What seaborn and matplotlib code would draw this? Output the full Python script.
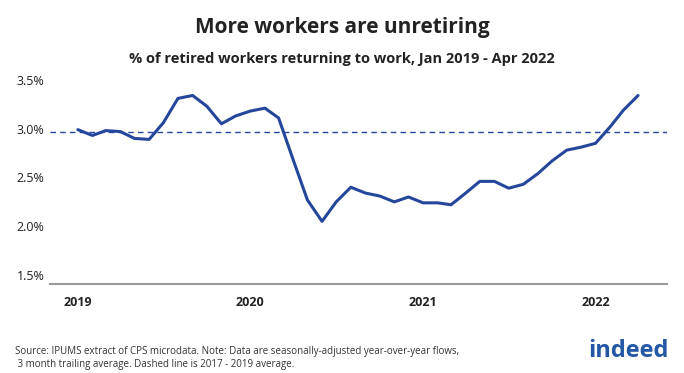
import numpy as np
import pandas as pd
import matplotlib
matplotlib.use("Agg")
import matplotlib.pyplot as plt
import seaborn as sns

# monthly share of retired workers returning to work (%), Jan 2019 - Apr 2022
months = pd.date_range("2019-01-01", "2022-04-01", freq="MS")
rate = [2.99, 2.93, 2.98, 2.97, 2.90, 2.89, 3.06, 3.31, 3.34, 3.23, 3.05, 3.13,
        3.18, 3.21, 3.11, 2.68, 2.27, 2.05, 2.25, 2.40, 2.34, 2.31, 2.25, 2.30,
        2.24, 2.24, 2.22, 2.34, 2.46, 2.46, 2.39, 2.43, 2.54, 2.67, 2.78, 2.81,
        2.85, 3.02, 3.19, 3.34]
avg_2017_2019 = 2.97
year_ticks = ["2019", "2020", "2021", "2022"]
y_ticks = [1.5, 2.0, 2.5, 3.0, 3.5]

df = pd.DataFrame({"month": months, "rate": rate})

sns.set_style("white")
plt.rcParams["font.family"] = ["Open Sans", "DejaVu Sans"]

line_col = "#25479b"
fig = plt.figure(figsize=(6.84, 3.73), dpi=100)
ax = fig.add_axes([0.073, 0.239, 0.902, 0.56])

sns.lineplot(data=df, x="month", y="rate", ax=ax, color=line_col, linewidth=2.2)
ax.axhline(avg_2017_2019, color=line_col, linewidth=1.0, linestyle=(0, (4, 3)))

ax.set_ylim(1.41, 3.55)
ax.set_xlim(pd.Timestamp("2018-11-03"), pd.Timestamp("2022-06-01"))
ax.set_yticks(y_ticks)
ax.set_yticklabels([f"{v:.1f}%" for v in y_ticks])
ax.set_xticks([pd.Timestamp(f"{y}-01-01") for y in year_ticks])
ax.set_xticklabels(year_ticks, fontweight="bold")
ax.tick_params(axis="both", length=0, labelsize=9, colors="#222222")
ax.tick_params(axis="x", pad=9)
ax.tick_params(axis="y", pad=4)
ax.set_xlabel("")
ax.set_ylabel("")
for s in ["top", "right", "left"]:
    ax.spines[s].set_visible(False)
ax.spines["bottom"].set_color("#9a9a9a")
ax.spines["bottom"].set_linewidth(1.5)
ax.grid(False)

fig.text(0.5, 0.927, "More workers are unretiring", ha="center", va="center",
         fontsize=15, fontweight="bold", color="#222222")
fig.text(0.5, 0.843, "% of retired workers returning to work, Jan 2019 - Apr 2022",
         ha="center", va="center", fontsize=10.5, fontweight="bold", color="#222222")
fig.text(0.022, 0.040,
         "Source: IPUMS extract of CPS microdata. Note: Data are seasonally-adjusted year-over-year flows,\n"
         " 3 month trailing average. Dashed line is 2017 - 2019 average.",
         ha="left", va="center", fontsize=7, color="#333333", linespacing=1.2)
fig.text(0.977, 0.058, "indeed", ha="right", va="center", fontsize=17,
         fontweight="bold", color="#2557a7")

fig.savefig("out.png", dpi=100)
